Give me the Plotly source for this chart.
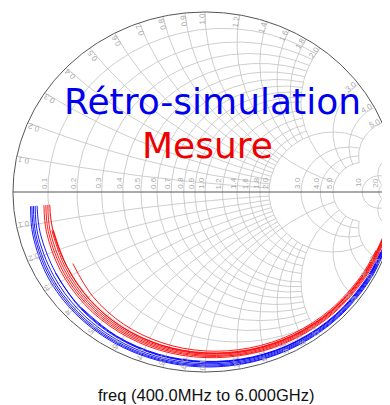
import numpy as np
import plotly.graph_objects as go

# ---- Smith chart grid values (normalised impedance) ----
R_FINE = [0.1, 0.2, 0.3, 0.4, 0.5, 0.6, 0.7, 0.8, 0.9, 1.0]
R_MID = [1.2, 1.4, 1.6, 1.8]
R_COARSE = [2.0, 3.0, 4.0, 5.0]
R_FAR = [10.0, 20.0]
X_FINE = [0.1, 0.2, 0.3, 0.4, 0.5, 0.6, 0.7, 0.8, 0.9]
X_MID = [1.2, 1.4, 1.6, 1.8]
X_COARSE = [1.0, 2.0, 3.0, 4.0, 5.0]
X_FAR = [10.0, 20.0]
R_LABELS = ["0.1", "0.2", "0.3", "0.4", "0.5", "0.6", "0.7", "0.8", "0.9", "1.0",
            "1.2", "1.4", "1.6", "1.8", "2.0", "3.0", "4.0", "5.0", "10", "20"]
X_LABELS = ["0.1", "0.2", "0.3", "0.4", "0.5", "0.6", "0.7", "0.8", "0.9", "1.0",
            "1.2", "1.4", "1.6", "1.8", "2.0", "3.0", "4.0", "5.0"]

# ---- S11 traces: phase (deg) grid and magnitudes per sweep ----
PHASE_DEG = [-175, -165, -150, -135, -120, -105, -90, -75, -60, -45, -30, -20, -14]
SIM_MAG = [
    [0.912, 0.928, 0.945, 0.955, 0.962, 0.967, 0.972, 0.976, 0.980, 0.984, 0.988, 0.990, 0.992],
    [0.905, 0.920, 0.936, 0.948, 0.956, 0.962, 0.967, 0.972, 0.976, 0.980, 0.984, 0.987, 0.989],
    [0.897, 0.912, 0.927, 0.940, 0.949, 0.956, 0.961, 0.966, 0.971, 0.976, 0.980, 0.984, 0.986],
    [0.888, 0.902, 0.915, 0.929, 0.940, 0.948, 0.954, 0.960, 0.966, 0.971, 0.976, 0.980, 0.983],
    [None, None, 0.900, 0.916, 0.929, 0.939, 0.946, 0.954, 0.960, 0.966, 0.972, 0.976, 0.979],
    [None, None, None, 0.910, 0.923, 0.933, 0.941, 0.949, 0.956, 0.962, 0.968, 0.973, None],
    [0.878, 0.888, 0.898, 0.912, 0.925, 0.936, 0.944, 0.952, 0.959, 0.966, 0.973, 0.978, None],
]
MEAS_MAG = [
    [0.842, 0.855, 0.870, 0.885, 0.898, 0.910, 0.920, 0.930, 0.940, 0.950, 0.960, 0.968, 0.974],
    [0.832, 0.845, 0.860, 0.876, 0.890, 0.902, 0.913, 0.924, 0.935, 0.945, 0.955, 0.964, 0.971],
    [0.822, 0.835, 0.850, 0.867, 0.882, 0.895, 0.907, 0.918, 0.929, 0.940, 0.951, 0.960, 0.968],
    [None, 0.826, 0.840, 0.858, 0.874, 0.888, 0.900, 0.912, 0.924, 0.935, 0.946, 0.956, 0.965],
    [None, None, 0.795, 0.824, 0.848, 0.867, 0.883, 0.897, 0.911, 0.924, 0.937, 0.948, None],
    [None, 0.818, 0.830, 0.848, 0.866, 0.880, 0.893, 0.906, 0.918, 0.930, 0.942, 0.952, 0.962],
    [0.812, 0.820, 0.830, 0.848, 0.866, 0.882, 0.896, 0.909, 0.921, 0.933, 0.945, 0.955, 0.964],
]

TITLE_SIM = "Rétro-simulation"
TITLE_MEAS = "Mesure"
FREQ_TEXT = "freq (400.0MHz to 6.000GHz)"

GRID_COLOR = "#c2c2c2"
LABEL_COLOR = "#aaaaaa"

# page body has an 8px default margin: figure pixel = screen pixel - 8
OFF = 8.0


def gamma(z):
    return (z - 1) / (z + 1)


gx, gy = [], []


def add(g):
    gx.extend(np.real(g).tolist() + [None])
    gy.extend(np.imag(g).tolist() + [None])


def r_circle(r, xmax):
    if xmax is None:
        t = np.linspace(0, 2 * np.pi, 500)
        add(r / (1 + r) + np.exp(1j * t) / (1 + r))
    else:
        x = np.linspace(-xmax, xmax, 600)
        add(gamma(r + 1j * x))


def x_arc(x, rmax):
    if rmax is None:
        r = np.concatenate([np.linspace(0, 5, 200), np.geomspace(5, 1e5, 300)])
    else:
        r = np.linspace(0, rmax, 300)
    add(gamma(r + 1j * x))
    add(gamma(r - 1j * x))


for r in R_FINE + R_MID:
    r_circle(r, 2.0)
for r in R_COARSE:
    r_circle(r, 5.0)
for r in R_FAR:
    r_circle(r, None)
for x in X_FINE + X_MID:
    x_arc(x, 2.0)
for x in X_COARSE:
    x_arc(x, 5.0)
for x in X_FAR:
    x_arc(x, None)

fig = go.Figure()
fig.add_trace(go.Scatter(x=gx, y=gy, mode="lines", line=dict(color=GRID_COLOR, width=0.8),
                         hoverinfo="skip", showlegend=False))
t = np.linspace(0, 2 * np.pi, 721)
fig.add_trace(go.Scatter(x=np.cos(t), y=np.sin(t), mode="lines",
                         line=dict(color="#555555", width=1), showlegend=False, hoverinfo="skip"))
fig.add_trace(go.Scatter(x=[-1, 1], y=[0, 0], mode="lines",
                         line=dict(color="#555555", width=1), showlegend=False, hoverinfo="skip"))

ph = np.radians(np.array(PHASE_DEG, dtype=float))


def curve(mags):
    xs, ys = [], []
    for m, p in zip(mags, ph):
        if m is None:
            xs.append(None); ys.append(None)
        else:
            xs.append(m * np.cos(p)); ys.append(m * np.sin(p))
    return xs, ys


for mags in SIM_MAG:
    xs, ys = curve(mags)
    fig.add_trace(go.Scatter(x=xs, y=ys, mode="lines", line=dict(color="#0000ff", width=0.9, shape="spline"),
                             showlegend=False))
for mags in MEAS_MAG:
    xs, ys = curve(mags)
    fig.add_trace(go.Scatter(x=xs, y=ys, mode="lines", line=dict(color="#ff0000", width=0.9, shape="spline"),
                             showlegend=False))

ann = []
lab_font = dict(family="Liberation Sans, Arial", size=8, color=LABEL_COLOR)
for r, lab in zip(R_FINE + R_MID + R_COARSE + R_FAR, R_LABELS):
    ann.append(dict(x=(r - 1) / (r + 1), y=0, xref="x", yref="y", text=lab, showarrow=False,
                    textangle=-90, font=lab_font, xshift=-4, yshift=9))
for x, lab in zip(X_FINE[:9] + [1.0] + X_MID + [2.0, 3.0, 4.0, 5.0], X_LABELS):
    phi = np.pi - 2 * np.arctan(x)
    for sgn in (1, -1):
        a = sgn * (phi + 0.012)
        ann.append(dict(x=0.962 * np.cos(a), y=0.962 * np.sin(a), xref="x", yref="y", text=lab,
                        showarrow=False, textangle=-np.degrees(a), font=lab_font))

W, H = 390, 405
ann.append(dict(x=(212 - OFF) / W, y=1 - (101 - OFF) / H, xref="paper", yref="paper", text=TITLE_SIM,
                showarrow=False, font=dict(family="DejaVu Sans", size=36, color="#0000ee"),
                xanchor="center", yanchor="middle"))
ann.append(dict(x=(207 - OFF) / W, y=1 - (145 - OFF) / H, xref="paper", yref="paper", text=TITLE_MEAS,
                showarrow=False, font=dict(family="DejaVu Sans", size=36, color="#ee0000"),
                xanchor="center", yanchor="middle"))
ann.append(dict(x=(206 - OFF) / W, y=1 - (395 - OFF) / H, xref="paper", yref="paper", text=FREQ_TEXT,
                showarrow=False, font=dict(family="Liberation Sans, Arial", size=16.5, color="#111111"),
                xanchor="center", yanchor="middle"))

CX, AX, CY, BY = 205.0 - OFF, 192.0, 192.0 - OFF, 180.0
fig.update_layout(
    width=W, height=H, margin=dict(l=0, r=0, t=0, b=0), autosize=False,
    paper_bgcolor="white", plot_bgcolor="white",
    xaxis=dict(range=[(0 - CX) / AX, (W - CX) / AX], visible=False, fixedrange=True),
    yaxis=dict(range=[(CY - H) / BY, CY / BY], visible=False, fixedrange=True),
    annotations=ann, showlegend=False,
)
fig.write_html("out.html")
